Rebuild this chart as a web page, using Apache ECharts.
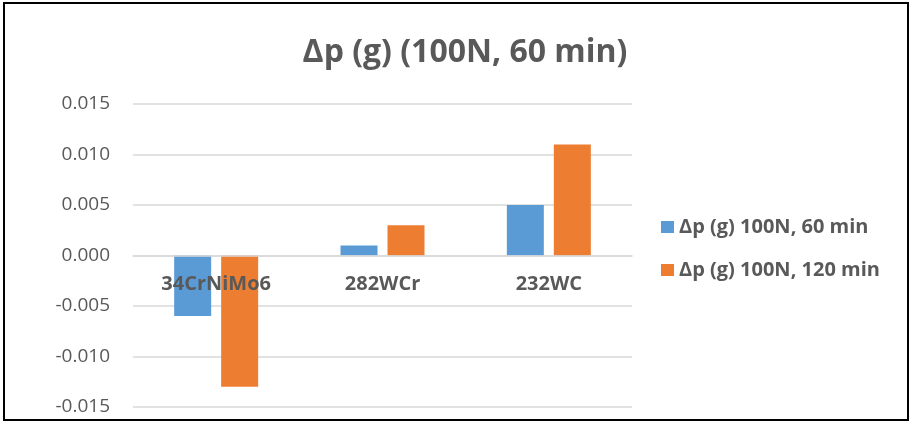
<!DOCTYPE html>
<html>
<head>
<meta charset="utf-8">
<script src="https://cdn.jsdelivr.net/npm/echarts@6/dist/echarts.min.js"></script>
<style>
  html, body { margin: 0; padding: 0; background: #fff; }
  #chart { width: 913px; height: 423px; }
</style>
</head>
<body>
<div id="chart"></div>
<script>
const categories = ['34CrNiMo6', '282WCr', '232WC'];
const seriesNames = ['Δp (g) 100N, 60 min', 'Δp (g) 100N, 120 min'];
const values60 = [-0.006, 0.001, 0.005];
const values120 = [-0.013, 0.003, 0.011];
const yTicks = { min: -0.015, max: 0.015, interval: 0.005 };

const textGray = '#595959';
const gridGray = '#d9d9d9';
const fontFam = '"Open Sans", "Liberation Sans", sans-serif';

// plot box, in pixels
const plotTop = 104, plotBottom = 16, chartHeight = 423;
const plotHeight = chartHeight - plotTop - plotBottom;
// lift the category axis from the bottom edge to the zero line
const zeroLift = -plotHeight * (0 - yTicks.min) / (yTicks.max - yTicks.min);

const chart = echarts.init(document.getElementById('chart'), null, { renderer: 'canvas' });
chart.setOption({
  animation: false,
  backgroundColor: '#fff',
  title: {
    text: 'Δp (g) (100N, 60 min)',
    left: 460, top: 32, textAlign: 'center',
    textStyle: { color: textGray, fontSize: 32, fontWeight: 'bold', fontFamily: fontFam }
  },
  legend: {
    orient: 'vertical', left: 656, top: 212, itemGap: 23,
    itemWidth: 13, itemHeight: 12, icon: 'rect',
    textStyle: { color: textGray, fontSize: 20, fontWeight: 'bold', fontFamily: fontFam },
    data: seriesNames
  },
  grid: { left: 133, right: 281, top: plotTop, bottom: plotBottom, containLabel: false, outerBoundsMode: 'none' },
  xAxis: {
    type: 'category', data: categories, position: 'bottom', offset: zeroLift,
    axisLine: { onZero: false, lineStyle: { color: gridGray, width: 1.5 } },
    axisTick: { show: false },
    axisLabel: { margin: 19, color: textGray, fontSize: 20, fontWeight: 'bold', fontFamily: fontFam },
    z: 10
  },
  yAxis: {
    type: 'value', min: yTicks.min, max: yTicks.max, interval: yTicks.interval,
    axisLine: { show: false }, axisTick: { show: false },
    splitLine: { lineStyle: { color: gridGray, width: 1.5 } },
    axisLabel: { margin: 23, color: textGray, fontSize: 19, fontFamily: fontFam,
      formatter: v => v.toFixed(3) }
  },
  series: [
    { name: seriesNames[0], type: 'bar', data: values60, barWidth: 37, barGap: '27%',
      itemStyle: { color: '#5b9bd5' } },
    { name: seriesNames[1], type: 'bar', data: values120, barWidth: 37,
      itemStyle: { color: '#ed7d31' } }
  ],
  graphic: [{
    type: 'rect', shape: { x: 4, y: 3, width: 904, height: 417 },
    style: { fill: 'none', stroke: '#000', lineWidth: 2 }, silent: true, z: 100
  }]
});
</script>
</body>
</html>
